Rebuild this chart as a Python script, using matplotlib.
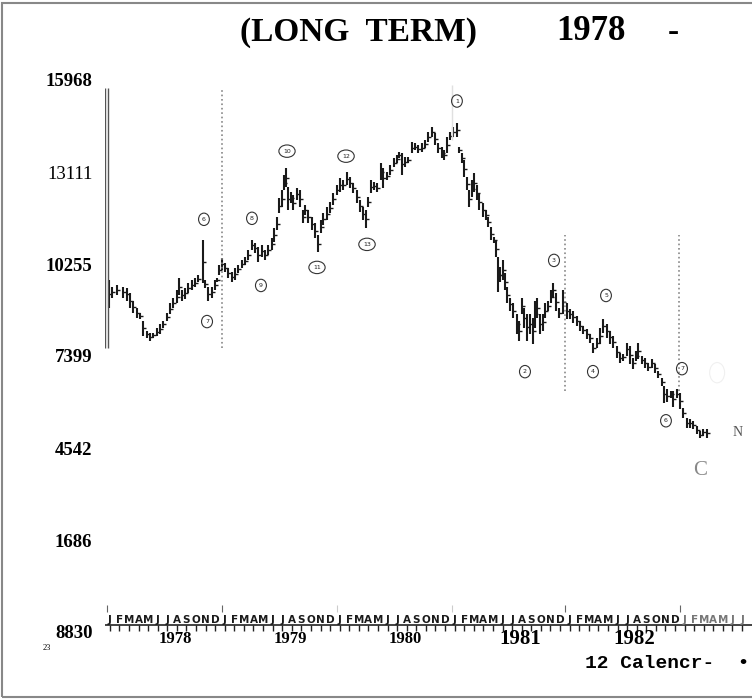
import matplotlib
matplotlib.use("Agg")
import matplotlib.pyplot as plt
from matplotlib.patches import Rectangle
from matplotlib.transforms import blended_transform_factory

# bar dates in months counted from January 1978, with high and low of each bar
months = [0.42, 0.73, 1.25, 1.88, 2.30, 2.61, 2.92, 3.34, 3.65, 3.97, 4.38, 4.70, 5.01, 5.43,
          5.74, 6.05, 6.47, 6.78, 7.10, 7.52, 7.72, 8.04, 8.35, 8.66, 9.08, 9.39, 9.71, 10.23,
          10.44, 10.75, 11.17, 11.48, 11.69, 11.90, 12.21, 12.53, 12.84, 13.26, 13.57, 13.88,
          14.30, 14.61, 14.93, 15.34, 15.66, 15.97, 16.39, 16.70, 17.01, 17.43, 17.64, 17.95,
          18.16, 18.48, 18.68, 18.89, 19.10, 19.42, 19.62, 20.04, 20.35, 20.67, 20.88, 21.19,
          21.61, 21.92, 22.23, 22.55, 22.76, 23.17, 23.49, 23.80, 24.22, 24.53, 24.84, 25.26,
          25.57, 25.89, 26.30, 26.62, 26.93, 27.24, 27.45, 27.77, 28.08, 28.39, 28.81, 29.02,
          29.44, 29.75, 30.17, 30.48, 30.69, 31.00, 31.32, 31.63, 32.05, 32.36, 32.67, 33.09,
          33.40, 33.72, 34.13, 34.45, 34.76, 35.18, 35.39, 35.70, 36.01, 36.33, 36.74, 36.95,
          37.27, 37.47, 37.79, 38.00, 38.31, 38.52, 38.83, 39.04, 39.46, 39.77, 39.98, 40.29,
          40.61, 40.81, 41.02, 41.23, 41.55, 41.75, 41.96, 42.28, 42.59, 43.01, 43.22, 43.53,
          43.74, 44.05, 44.36, 44.68, 44.89, 45.09, 45.41, 45.72, 45.93, 46.24, 46.56, 46.76,
          47.08, 47.39, 47.81, 48.23, 48.54, 48.85, 49.27, 49.58, 49.90, 50.31, 50.63, 50.94,
          51.36, 51.67, 51.98, 52.40, 52.71, 53.03, 53.44, 53.76, 54.07, 54.49, 54.80, 55.11,
          55.43, 55.64, 56.05, 56.37, 56.68, 57.10, 57.41, 57.72, 58.14, 58.35, 58.66, 59.08,
          59.29, 59.71, 60.02, 60.33, 60.75, 61.06, 61.38, 61.80, 62.11, 62.42, 62.84]
highs = [9744, 9527, 9589, 9527, 9495, 9340, 9122, 8904, 8748, 8500, 8188, 8126, 8126, 8282,
         8406, 8500, 8748, 9029, 9215, 9433, 9807, 9433, 9495, 9651, 9744, 9807, 9900, 10989,
         9744, 9527, 9527, 9744, 9807, 10211, 10429, 10274, 10118, 9993, 10118, 10211,
         10367, 10460, 10678, 10989, 10896, 10771, 10834, 10678, 10834, 11052, 11363, 11705,
         12296, 12545, 13012, 13230, 12639, 12483, 12390, 12607, 12545, 11923, 12078, 11923,
         11705, 11518, 11145, 11612, 11829, 12016, 12172, 12452, 12701, 12919, 12857, 13106,
         12950, 12763, 12545, 12234, 12016, 11923, 12327, 12857, 12794, 12763, 13386, 13230,
         13106, 13324, 13542, 13635, 13728, 13697, 13573, 13573, 14039, 14008, 13946, 14008,
         14101, 14350, 14506, 14319, 14008, 13884, 13790, 14195, 14350, 14506, 14630, 13884,
         13697, 13479, 12950, 12545, 12857, 13075, 12701, 12452, 12141, 11923, 11705, 11394,
         11083, 10989, 10460, 10149, 10367, 9962, 9527, 9215, 9029, 8717, 8500, 9215,
         8904, 8717, 8717, 8593, 9122, 9215, 8717, 8717, 9029, 9122, 9433, 9651,
         9340, 8904, 9433, 9060, 8873, 8811, 8655, 8500, 8344, 8251, 8095, 7815,
         7970, 8282, 8562, 8406, 8188, 8033, 7722, 7504, 7472, 7815, 7722, 7348,
         7566, 7815, 7410, 7348, 7192, 7316, 7161, 6944, 6725, 6477, 6374, 6320,
         6320, 6374, 6248, 5792, 5481, 5450, 5388, 5232, 5066, 5139, 5139]
lows = [8904, 9215, 9278, 9215, 9122, 8904, 8748, 8593, 8562, 8033, 7970, 7877, 7970, 8033,
        8095, 8282, 8500, 8717, 8904, 9029, 9278, 9122, 9184, 9340, 9433, 9527, 9682, 9651,
        9495, 9122, 9215, 9433, 9682, 9900, 10056, 9993, 9807, 9682, 9744, 9962,
        10118, 10211, 10367, 10678, 10585, 10305, 10460, 10367, 10522, 10678, 10927, 11300,
        11829, 12016, 12545, 12639, 11923, 12141, 11923, 12234, 12016, 11518, 11767, 11518,
        11300, 11052, 10616, 11207, 11456, 11612, 11829, 12078, 12390, 12483, 12545, 12701,
        12607, 12452, 12141, 11860, 11612, 11363, 12016, 12452, 12545, 12483, 12857, 12607,
        12857, 13012, 13262, 13386, 13542, 13012, 13262, 13386, 13697, 13790, 13697, 13728,
        13852, 14039, 14195, 13946, 13697, 13542, 13479, 13697, 14101, 14195, 14195, 13697,
        13386, 12950, 12545, 12016, 12327, 12483, 12234, 11923, 11705, 11612, 11394, 10989,
        10896, 10460, 9371, 9682, 9744, 9433, 9029, 8811, 8593, 8095, 7877, 8717,
        8282, 7877, 8095, 7784, 8282, 8593, 8095, 8188, 8593, 8811, 9029, 9215,
        8811, 8593, 8717, 8562, 8562, 8438, 8344, 8188, 8095, 7939, 7815, 7504,
        7659, 7784, 8126, 7970, 7784, 7659, 7348, 7192, 7255, 7410, 7161, 7006,
        7255, 7316, 7161, 7037, 6944, 7037, 6881, 6725, 6477, 5937, 5967, 6092,
        5812, 6092, 5761, 5481, 5170, 5170, 5139, 4973, 4848, 4911, 4848]

# circled wave counts written on the chart
wave_labels = ["1", "2", "3", "4", "5", "6", "7", "6", "7", "8", "9", "10", "11", "12", "13"]
wave_x = [36.74, 43.84, 46.87, 50.94, 52.30, 58.56, 60.23, 10.33, 10.65, 15.34, 16.28,
          19.00, 22.13, 25.16, 27.35]
wave_y = [15315, 6913, 10367, 6913, 9278, 5388, 7006, 11643, 8468, 11674, 9589,
          13759, 10149, 13603, 10865]

price_ticks = [15968, 13111, 10255, 7399, 4542, 1686, -1170]
price_tick_labels = ["15968", "13111", "10255", "7399", "4542", "1686", "8830"]
years = ["1978", "1979", "1980", "1981", "1982"]
month_letters = list("JFMAMJJASOND")

serif = "Liberation Serif"

fig = plt.figure(figsize=(7.52, 7.0), dpi=100)
ax = fig.add_axes([105 / 752, 68 / 700, 647 / 752, 552 / 700])
ax.set_xlim(0, 67.54)
ax.set_ylim(-1170, 15968)
for s in ax.spines.values():
    s.set_visible(False)

# the bars, with a small tick at mid range so they read as one jagged trace
mids = [(h + l) / 2 for h, l in zip(highs, lows)]
ax.vlines(months, lows, highs, color="#1a1a1a", lw=1.5)
ax.hlines(mids, [m - 0.05 for m in months], [m + 0.3 for m in months], color="#1a1a1a", lw=1.0)

# year separators
ax.vlines([0.05, 0.3], 7660, 15720, color="#555555", lw=1.0)
ax.vlines(12.2, 7660, 15720, color="#888888", lw=1.2, ls=":")
ax.vlines(36.2, 14100, 15810, color="#e0e0e0", lw=1.0)
ax.vlines([48.0, 59.9], 6320, 11145, color="#888888", lw=1.2, ls=":")

for lbl, x, y in zip(wave_labels, wave_x, wave_y):
    ax.text(x, y, lbl, fontsize=4.5, ha="center", va="center", color="#222222",
            bbox=dict(boxstyle="ellipse,pad=0.3", fc="none", ec="#333333", lw=0.8))

# ghost marks at the clipped right side
ax.text(63.9, 6881, " ", fontsize=5, ha="center", va="center",
        bbox=dict(boxstyle="ellipse,pad=0.6", fc="none", ec="#f0f0f0", lw=0.8))
ax.text(62.1, 3832, "C", fontsize=15, family=serif, color="#888888", ha="center", va="center")
ax.text(66.0, 5014, "N", fontsize=10, family=serif, color="#555555", ha="center", va="center")

ax.set_yticks(price_ticks)
ax.set_yticklabels(price_tick_labels)
ax.set_xticks([])
ax.tick_params(axis="y", length=0, pad=9)
for lbl in ax.get_yticklabels():
    lbl.set_fontfamily(serif)
    lbl.set_fontsize(13.5)
    lbl.set_fontweight("normal" if lbl.get_text() == "13111" else "bold")

# calendar strip along the bottom
trans = blended_transform_factory(ax.transData, ax.transAxes)
for k in range(67):
    ax.text(k + 0.5, 0.022, month_letters[k % 12], transform=trans, fontsize=7.5,
            family="DejaVu Sans", weight="bold", ha="center", va="center",
            color="#1a1a1a" if k < 60 else "#777777")
ax.plot([0, 67.54], [0.0125, 0.0125], transform=trans, color="#222222", lw=1.2)
ax.vlines([k + 0.5 for k in range(67)], 0.002, 0.0125, transform=trans, color="#222222", lw=1.0)
ax.vlines([0.2, 12.2, 48.0, 60.0], 0.036, 0.049, transform=trans, color="#666666", lw=0.8)
ax.vlines([24.2, 36.2], 0.036, 0.049, transform=trans, color="#cccccc", lw=0.8)

for k, yr in enumerate(years):
    ax.text(12 * k + 7.3, -0.0135, yr, transform=trans, fontsize=12 if k < 3 else 15,
            family=serif, weight="bold", ha="center", va="center", clip_on=False)

fig.text(240 / 752, 1 - 32 / 700, "(LONG  TERM)", fontsize=24, family=serif,
         weight="bold", va="center", ha="left")
fig.text(556 / 752, 1 - 32 / 700, "1978", fontsize=25, family=serif,
         weight="bold", va="center", ha="left")
fig.text(668 / 752, 1 - 32 / 700, "-", fontsize=24, family=serif,
         weight="bold", va="center", ha="left")
fig.text(585 / 752, 1 - 663 / 700, "12 Calencr-  •", fontsize=14,
         family="Liberation Mono", weight="bold", va="center", ha="left")
fig.text(43 / 752, 1 - 648 / 700, "23", fontsize=6, family=serif, va="center")

fig.add_artist(Rectangle((2 / 752, 3 / 700), 760 / 752, 694 / 700, transform=fig.transFigure,
                         fill=False, ec="#888888", lw=1.5))

fig.savefig("out.png", dpi=100)
